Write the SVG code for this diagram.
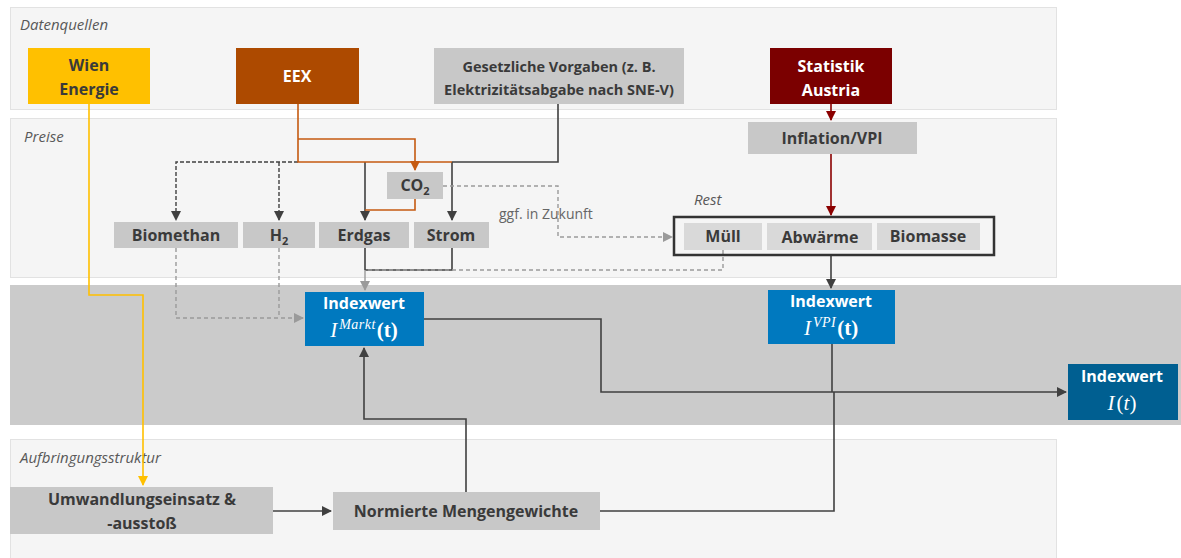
<svg xmlns="http://www.w3.org/2000/svg" width="1181" height="558" viewBox="0 0 1181 558">
<defs>
<style>
.panel{fill:#f5f5f5;stroke:#e2e2e2;stroke-width:1}
.band{fill:#cbcbcb}
.plabel{font-family:"Open Sans","Liberation Sans",sans-serif;font-style:italic;font-size:15px;fill:#595959}
.t{font-family:"Open Sans","Liberation Sans",sans-serif;font-weight:bold;font-size:16px;fill:#3a3a3a;text-anchor:middle}
.tw{fill:#ffffff}
.g{fill:#c8c8c8}
.gl{fill:#d9d9d9}
.blue{fill:#0079bf}
.dblue{fill:#005f91}
.m{font-family:"Liberation Serif","DejaVu Serif",serif;font-size:21px;fill:#ffffff;text-anchor:middle}
.dark{fill:none;stroke:#404040;stroke-width:1.6}
.darkd{fill:none;stroke:#404040;stroke-width:1.4;stroke-dasharray:4 2}
.gray{fill:none;stroke:#9a9a9a;stroke-width:1.4;stroke-dasharray:4 3}
.grays{fill:none;stroke:#9a9a9a;stroke-width:1.4}
.orng{fill:none;stroke:#c55a11;stroke-width:1.6}
.red{fill:none;stroke:#8b0000;stroke-width:1.6}
.yel{fill:none;stroke:#ffc000;stroke-width:1.6}
</style>
<marker id="aD" markerWidth="10" markerHeight="10" refX="9" refY="5" orient="auto" markerUnits="userSpaceOnUse"><path d="M0,0 L10,5 L0,10 z" fill="#404040"/></marker>
<marker id="aG" markerWidth="10" markerHeight="10" refX="9" refY="5" orient="auto" markerUnits="userSpaceOnUse"><path d="M0,0 L10,5 L0,10 z" fill="#9a9a9a"/></marker>
<marker id="aO" markerWidth="10" markerHeight="10" refX="9" refY="5" orient="auto" markerUnits="userSpaceOnUse"><path d="M0,0 L10,5 L0,10 z" fill="#c55a11"/></marker>
<marker id="aR" markerWidth="10" markerHeight="10" refX="9" refY="5" orient="auto" markerUnits="userSpaceOnUse"><path d="M0,0 L10,5 L0,10 z" fill="#8b0000"/></marker>
<marker id="aY" markerWidth="10" markerHeight="10" refX="9" refY="5" orient="auto" markerUnits="userSpaceOnUse"><path d="M0,0 L10,5 L0,10 z" fill="#ffc000"/></marker>
</defs>
<rect width="1181" height="558" fill="#ffffff"/>

<g id="panels">
<rect class="panel" x="10.5" y="7.5" width="1046" height="102"/>
<rect class="panel" x="10.5" y="118.5" width="1046" height="159"/>
<rect class="band" x="10" y="285" width="1171" height="140"/>
<rect class="panel" x="10.5" y="439.5" width="1046" height="125"/>
<text class="plabel" x="20" y="30">Datenquellen</text>
<text class="plabel" x="24" y="142">Preise</text>
<text class="plabel" x="20" y="463">Aufbringungsstruktur</text>
<text class="plabel" x="694" y="205">Rest</text>
<text x="499" y="219" style="font-family:'Open Sans','Liberation Sans',sans-serif;font-size:14px;fill:#666666">ggf. in Zukunft</text>
</g>

<g id="connectors">
<path class="yel" d="M89,104 V295 H143 V485" marker-end="url(#aY)"/>
<path class="darkd" d="M298,162 H176 V220" marker-end="url(#aD)"/>
<path class="darkd" d="M279,162 V220" marker-end="url(#aD)"/>
<path class="dark" d="M558,104 V162 H452"/>
<path class="dark" d="M365,162 V220" marker-end="url(#aD)"/>
<path class="dark" d="M452,162 V220" marker-end="url(#aD)"/>
<path class="orng" d="M298,104 V162 H452"/>
<path class="orng" d="M298,139 H415 V170" marker-end="url(#aO)"/>
<path class="orng" d="M415,199 V210 H365"/>
<path class="gray" d="M443,186 H558 V237 H672" marker-end="url(#aG)"/>
<path class="gray" d="M176,248 V318 H303" marker-end="url(#aG)"/>
<path class="gray" d="M279,248 V318"/>
<path class="dark" d="M365,248 V270 M452,248 V270 H365"/>
<path class="gray" d="M723,250 V270 H365"/>
<path class="grays" d="M365,270 V290" marker-end="url(#aG)"/>
<path class="red" d="M831,104 V120" marker-end="url(#aR)"/>
<path class="red" d="M831,154 V215" marker-end="url(#aR)"/>
<path class="dark" d="M831,256 V288" marker-end="url(#aD)"/>
<path class="dark" d="M424,319 H601 V392 H1066" marker-end="url(#aD)"/>
<path class="dark" d="M832,344 V392"/>
<path class="dark" d="M600,511 H834 V392"/>
<path class="dark" d="M466,492 V419 H364 V348" marker-end="url(#aD)"/>
<path class="dark" d="M273,511 H331" marker-end="url(#aD)"/>
</g>

<g id="wien-energie">
<rect x="28" y="48" width="122" height="56" fill="#ffc000"/>
<text class="t" x="89" y="71">Wien</text>
<text class="t" x="89" y="95">Energie</text>
</g>
<g id="eex">
<rect x="236" y="48" width="123" height="56" fill="#ad4a00"/>
<text class="t tw" x="297" y="82">EEX</text>
</g>
<g id="gesetzliche-vorgaben">
<rect class="g" x="434" y="48" width="250" height="56"/>
<text class="t" x="559" y="72" style="font-size:14.5px">Gesetzliche Vorgaben (z. B.</text>
<text class="t" x="559" y="95" style="font-size:14.5px">Elektrizitätsabgabe nach SNE-V)</text>
</g>
<g id="statistik-austria">
<rect x="770" y="48" width="122" height="56" fill="#7b0000"/>
<text class="t tw" x="831" y="72">Statistik</text>
<text class="t tw" x="831" y="96">Austria</text>
</g>
<g id="inflation-vpi">
<rect class="g" x="748" y="122" width="169" height="32"/>
<text class="t" x="832" y="144">Inflation/VPI</text>
</g>
<g id="biomethan">
<rect class="g" x="114" y="222" width="124" height="26"/>
<text class="t" x="176" y="241">Biomethan</text>
</g>
<g id="h2">
<rect class="g" x="243" y="222" width="72" height="26"/>
<text class="t" x="279" y="241">H<tspan dy="4" style="font-size:11px">2</tspan></text>
</g>
<g id="erdgas">
<rect class="g" x="319" y="222" width="90" height="26"/>
<text class="t" x="364" y="241">Erdgas</text>
</g>
<g id="co2">
<rect class="g" x="387" y="172" width="56" height="27"/>
<text class="t" x="415" y="191">CO<tspan dy="4" style="font-size:11px">2</tspan></text>
</g>
<g id="strom">
<rect class="g" x="414" y="222" width="75" height="26"/>
<text class="t" x="451" y="241">Strom</text>
</g>
<g id="rest">
<rect x="674" y="217" width="320" height="38" fill="none" stroke="#333333" stroke-width="2.5"/>
<rect class="gl" x="684" y="223" width="78" height="27"/>
<text class="t" x="723" y="242">Müll</text>
<rect class="gl" x="767" y="223" width="105" height="27"/>
<text class="t" x="820" y="243">Abwärme</text>
<rect class="gl" x="877" y="223" width="103" height="27"/>
<text class="t" x="928" y="242">Biomasse</text>
</g>
<g id="indexwert-markt">
<rect class="blue" x="305" y="292" width="119" height="54"/>
<text class="t tw" x="364" y="309">Indexwert</text>
<text class="m" x="364" y="337"><tspan font-style="italic">I</tspan><tspan font-style="italic" font-size="14px" dx="2" dy="-8" letter-spacing="0.5">Markt</tspan><tspan dy="8" dx="1" font-weight="bold">(t)</tspan></text>
</g>
<g id="indexwert-vpi">
<rect class="blue" x="768" y="290" width="127" height="54"/>
<text class="t tw" x="831" y="307">Indexwert</text>
<text class="m" x="831" y="335"><tspan font-style="italic">I</tspan><tspan font-style="italic" font-size="14px" dx="2" dy="-8" letter-spacing="0.5">VPI</tspan><tspan dy="8" dx="1" font-weight="bold">(t)</tspan></text>
</g>
<g id="indexwert-gesamt">
<rect class="dblue" x="1068" y="364" width="110" height="56"/>
<text class="t tw" x="1122" y="382">Indexwert</text>
<text class="m" x="1122" y="410"><tspan font-style="italic">I</tspan><tspan dx="2">(</tspan><tspan font-style="italic">t</tspan>)</text>
</g>
<g id="umwandlungseinsatz">
<rect class="g" x="10" y="487" width="263" height="47"/>
<text class="t" x="142" y="505">Umwandlungseinsatz &amp;</text>
<text class="t" x="142" y="529">-ausstoß</text>
</g>
<g id="normierte-mengengewichte">
<rect class="g" x="333" y="492" width="267" height="38"/>
<text class="t" x="466" y="517">Normierte Mengengewichte</text>
</g>
</svg>
